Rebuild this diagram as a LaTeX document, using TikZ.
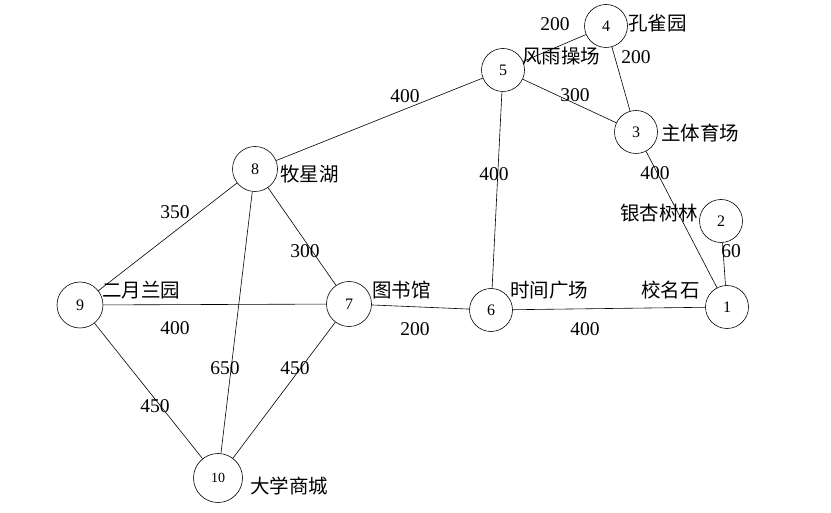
\documentclass[tikz,border=0pt]{standalone}
\usepackage{fontspec}
\setmainfont{Liberation Serif}
\newfontfamily\cjk{Noto Sans CJK SC}
\usetikzlibrary{positioning}

\begin{document}
\begin{tikzpicture}[x=1pt,y=-1pt,line width=0.6pt,
  spot/.style={draw,circle,minimum size=43pt,inner sep=0pt,font=\fontsize{16}{16}\selectfont},
  place/.style={anchor=west,inner sep=0pt,font=\cjk\fontsize{19.5}{19.5}\selectfont},
  dist/.style={inner sep=0pt,font=\fontsize{19.5}{19.5}\selectfont}]
  \useasboundingbox (0,0) rectangle (831,513);

  % sites
  \node[spot] (n1) at (727,307) {1};
  \node[spot] (n2) at (721,221) {2};
  \node[spot] (n3) at (636,132) {3};
  \node[spot] (n4) at (606,26) {4};
  \node[spot] (n5) at (503,70) {5};
  \node[spot] (n6) at (491,310) {6};
  \node[spot,minimum size=45pt] (n7) at (349,304) {7};
  \node[spot,minimum size=45pt] (n8) at (255,169) {8};
  \node[spot,minimum size=46pt] (n9) at (80,305) {9};
  \node[spot,minimum size=49pt,font=\fontsize{14}{14}\selectfont] (n10) at (218,478) {10};

  % names
  \node[place] (l1) at (641,290) {校名石};
  \node[place] (l2) at (620,213) {银杏树林};
  \node[place] (l3) at (661,133) {主体育场};
  \node[place] (l4) at (628,23) {孔雀园};
  \node[place] (l5) at (522,56) {风雨操场};
  \node[place] (l6) at (510,290) {时间广场};
  \node[place] (l7) at (372,290) {图书馆};
  \node[place] (l8) at (280,174) {牧星湖};
  \node[place] (l9) at (102,290) {二月兰园};
  \node[place] (l10) at (250,486) {大学商城};

  % roads
  \draw (n1) -- (n2);
  \draw (n1) -- (n3);
  \draw (n1) -- (n6);
  \draw (n3) -- (n4);
  \draw (n3) -- (n5);
  \draw (n4) -- (n5);
  \draw (n5) -- (n6);
  \draw (n5) -- (n8);
  \draw (n8) -- (n7);
  \draw (n8) -- (n9);
  \draw (n8) -- (n10);
  \draw (n9) -- (n7);
  \draw (n9) -- (n10);
  \draw (n7) -- (n10);
  \draw (n7) -- (n6);

  % distances
  \node[dist] (d45) at (555,24) {200};
  \node[dist] (d43) at (636,57) {200};
  \node[dist] (d53) at (575,95) {300};
  \node[dist] (d58) at (405,96) {400};
  \node[dist] (d56) at (494,174) {400};
  \node[dist] (d31) at (655,173) {400};
  \node[dist] (d21) at (731,251) {60};
  \node[dist] (d89) at (175,212) {350};
  \node[dist] (d87) at (305,251) {300};
  \node[dist] (d97) at (175,328) {400};
  \node[dist] (d76) at (415,329) {200};
  \node[dist] (d61) at (585,329) {400};
  \node[dist] (d810) at (225,368) {650};
  \node[dist] (d710) at (295,368) {450};
  \node[dist] (d910) at (155,406) {450};
\end{tikzpicture}
\end{document}
